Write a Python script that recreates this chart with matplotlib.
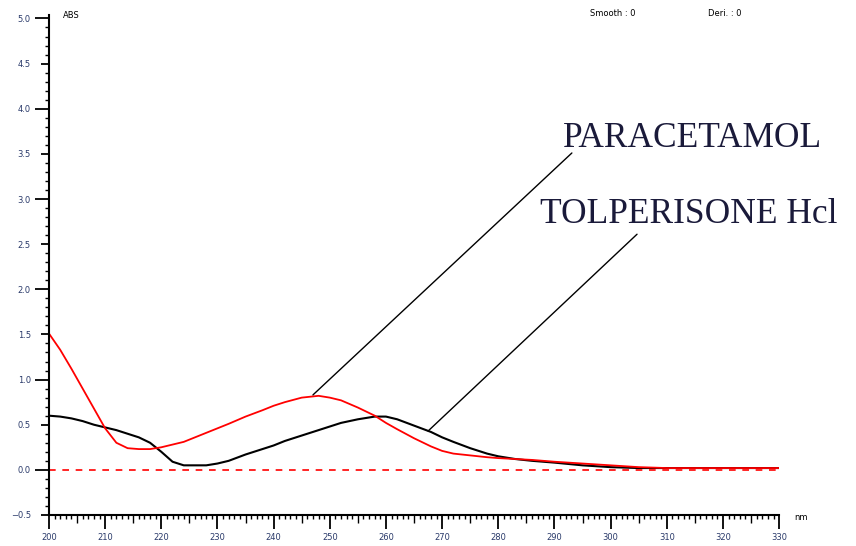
import numpy as np
import matplotlib
matplotlib.use("Agg")
import matplotlib.pyplot as plt
from matplotlib.ticker import MultipleLocator

# wavelengths (nm) and absorbances
wavelength = [200, 202, 204, 206, 208, 210, 212, 214, 216, 218, 220, 222, 224,
              226, 228, 230, 232, 235, 238, 240, 242, 245, 248, 250, 252, 255,
              258, 260, 262, 265, 268, 270, 272, 275, 278, 280, 283, 286, 290,
              295, 300, 305, 310, 315, 320, 325, 330]
paracetamol = [1.51, 1.33, 1.12, 0.90, 0.68, 0.46, 0.30, 0.24, 0.23, 0.23, 0.25,
               0.28, 0.31, 0.36, 0.41, 0.46, 0.51, 0.59, 0.66, 0.71, 0.75, 0.80,
               0.82, 0.80, 0.77, 0.69, 0.60, 0.52, 0.45, 0.35, 0.26, 0.21, 0.18,
               0.16, 0.14, 0.13, 0.12, 0.11, 0.09, 0.07, 0.05, 0.03, 0.02, 0.02,
               0.02, 0.02, 0.02]
tolperisone = [0.60, 0.59, 0.57, 0.54, 0.50, 0.47, 0.44, 0.40, 0.36, 0.30, 0.20,
               0.09, 0.05, 0.05, 0.05, 0.07, 0.10, 0.17, 0.23, 0.27, 0.32, 0.38,
               0.44, 0.48, 0.52, 0.56, 0.59, 0.59, 0.56, 0.49, 0.42, 0.36, 0.31,
               0.24, 0.18, 0.15, 0.12, 0.10, 0.08, 0.05, 0.03, 0.02, 0.02, 0.02,
               0.02, 0.02, 0.02]

fig = plt.figure(figsize=(8.56, 5.46), dpi=100)
ax = fig.add_axes([0.0572, 0.0568, 0.853, 0.916])

ax.plot(wavelength, tolperisone, color="black", lw=1.5)
ax.plot(wavelength, paracetamol, color="red", lw=1.3)
ax.axhline(0, color="red", lw=1.2, ls=(0, (4, 4)))

ax.set_xlim(200, 330)
ax.set_ylim(-0.5, 5.04)
for s in ["top", "right"]:
    ax.spines[s].set_visible(False)
ax.spines["left"].set_linewidth(1.5)
ax.spines["bottom"].set_linewidth(1.5)

ax.xaxis.set_major_locator(MultipleLocator(10))
ax.xaxis.set_minor_locator(MultipleLocator(1))
ax.yaxis.set_major_locator(MultipleLocator(0.5))
ax.yaxis.set_minor_locator(MultipleLocator(0.1))
ax.tick_params(which="major", direction="out", length=10, width=1.3,
               labelsize=6, labelcolor="#2a3a6a", pad=3)
ax.tick_params(which="minor", direction="out", length=3, width=1)

fig.text(63 / 856, 1 - 15 / 546, "ABS", fontsize=6, va="center")
fig.text(794 / 856, 1 - 518 / 546, "nm", fontsize=6, va="center")
fig.text(590 / 856, 1 - 13 / 546, "Smooth : 0", fontsize=6, va="center")
fig.text(708 / 856, 1 - 13 / 546, "Deri. : 0", fontsize=6, va="center")

ax.annotate("", xy=(247, 0.83), xytext=(293.1, 3.51),
            arrowprops=dict(arrowstyle="-", color="black", lw=1,
                            shrinkA=0, shrinkB=0))
ax.annotate("", xy=(267.5, 0.43), xytext=(304.7, 2.61),
            arrowprops=dict(arrowstyle="-", color="black", lw=1,
                            shrinkA=0, shrinkB=0))
ax.text(291.5, 3.58, "PARACETAMOL", family="Liberation Serif", fontsize=25.5,
        color="#1a1a3a")
ax.text(287.4, 2.73, "TOLPERISONE Hcl", family="Liberation Serif", fontsize=25.5,
        color="#1a1a3a")

# medium ticks: half units on y, every 5 nm on x
fig.canvas.draw()
for loc, t in zip(ax.yaxis.get_majorticklocs(), ax.yaxis.get_major_ticks()):
    if abs(loc - round(loc)) > 1e-6:
        t.tick1line.set_markersize(6)
for loc, t in zip(ax.xaxis.get_minorticklocs(), ax.xaxis.get_minor_ticks()):
    if abs(loc % 10 - 5) < 1e-6:
        t.tick1line.set_markersize(6)

fig.savefig("out.png", dpi=100)
